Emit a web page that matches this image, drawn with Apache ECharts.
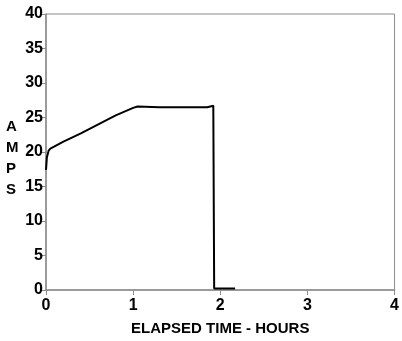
<!DOCTYPE html>
<html>
<head>
<meta charset="utf-8">
<script src="https://cdn.jsdelivr.net/npm/echarts@6/dist/echarts.min.js"></script>
<style>
  html, body { margin: 0; padding: 0; background: #fff; }
  #chart { width: 402px; height: 341px; }
</style>
</head>
<body>
<div id="chart"></div>
<script>
// elapsed time (hours) and current (amps)
const hours = [0, 0.01, 0.03, 0.05, 0.2, 0.4, 0.6, 0.8, 1.0, 1.05, 1.3, 1.6, 1.85, 1.92, 1.93, 1.93, 2.0, 2.17];
const amps  = [17.4, 19.2, 20.2, 20.5, 21.5, 22.7, 24.0, 25.3, 26.4, 26.6, 26.5, 26.5, 26.5, 26.7, 26.5, 0.2, 0.2, 0.2];
const yTicks = [0, 5, 10, 15, 20, 25, 30, 35, 40];
const xTicks = [0, 1, 2, 3, 4];

const chart = echarts.init(document.getElementById('chart'));
const axisGray = '#8c8c8c';
const labelFont = { color: '#000', fontFamily: 'Liberation Sans, Arial, sans-serif', fontWeight: 'bold', fontSize: 16 };

chart.setOption({
  animation: false,
  backgroundColor: '#fff',
  grid: { left: 46, right: 4, top: 14, bottom: 50, show: true, borderColor: axisGray, borderWidth: 1 },
  xAxis: {
    type: 'value',
    min: xTicks[0],
    max: xTicks[xTicks.length - 1],
    interval: 1,
    name: 'ELAPSED TIME - HOURS',
    nameLocation: 'middle',
    nameGap: 31,
    nameTextStyle: { ...labelFont, fontSize: 15 },
    axisLine: { show: true, lineStyle: { color: axisGray, width: 1.5 } },
    axisTick: { show: true, length: 5, lineStyle: { color: axisGray } },
    axisLabel: { ...labelFont, margin: 8 },
    splitLine: { show: false }
  },
  yAxis: {
    type: 'value',
    min: yTicks[0],
    max: yTicks[yTicks.length - 1],
    interval: 5,
    axisLine: { show: true, lineStyle: { color: axisGray, width: 1.5 } },
    axisTick: { show: true, length: 6, lineStyle: { color: axisGray } },
    axisLabel: { ...labelFont, margin: 3 },
    splitLine: { show: false }
  },
  graphic: [
    {
      type: 'text',
      left: 6,
      top: 116,
      style: {
        text: 'A\nM\nP\nS',
        fill: '#000',
        font: 'bold 15px "Liberation Sans", Arial, sans-serif',
        lineHeight: 21,
        align: 'center'
      }
    }
  ],
  series: [
    {
      type: 'line',
      data: hours.map((h, i) => [h, amps[i]]),
      showSymbol: false,
      lineStyle: { color: '#000', width: 2 },
      clip: true
    }
  ]
});
</script>
</body>
</html>
